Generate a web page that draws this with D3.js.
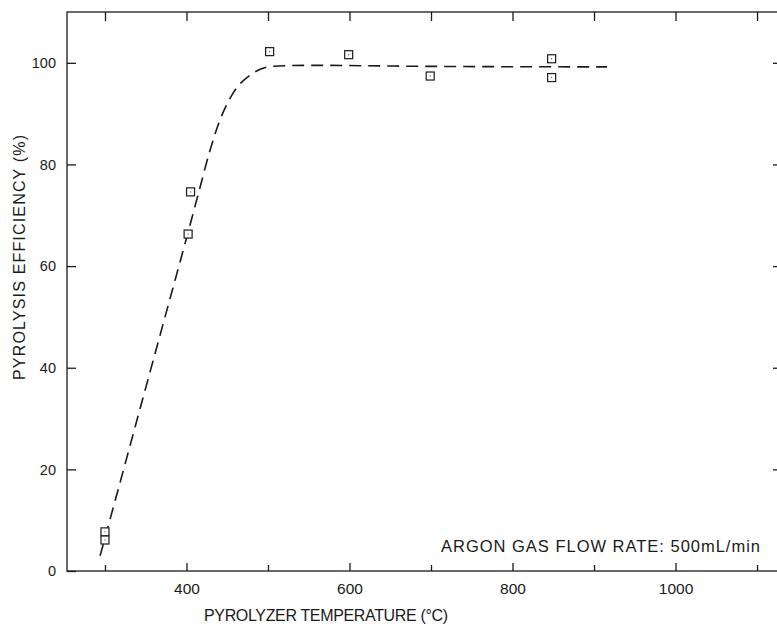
<!DOCTYPE html>
<html>
<head>
<meta charset="utf-8">
<script src="https://cdn.jsdelivr.net/npm/d3@7"></script>
<style>
  body { margin: 0; background: #fff; }
  svg { display: block; font-family: "Liberation Sans", Arial, Helvetica, sans-serif; }
</style>
</head>
<body>
<div id="chart"></div>
<script>
// measured points (temperature in deg C, efficiency in %)
const pointTemp = [300, 300, 402, 405, 502, 599, 699, 848, 848];
const pointEff = [7.7, 6.1, 66.3, 74.6, 102.2, 101.6, 97.4, 100.8, 97.1];

// dashed fitted curve
const curveTemp = [294, 320, 346, 373, 400, 415, 428, 440, 457, 480, 505, 550, 700, 916];
const curveEff = [3, 18.3, 33.7, 49.6, 65.5, 74.5, 82.3, 88.3, 94, 97.8, 99.3, 99.5, 99.3, 99.2];

// tick values
const xMajor = [400, 600, 800, 1000];
const xMinor = [300, 500, 700, 900, 1100];
const yTicks = [0, 20, 40, 60, 80, 100];

const width = 777;
const height = 629;
const plot = { left: 67, right: 781, top: 12, bottom: 571 };

const svg = d3.select('#chart')
    .append('svg')
    .attr('width', width)
    .attr('height', height);

const x = d3.scaleLinear()
    .domain([253.4, 1129.4])
    .range([plot.left, plot.right]);

const y = d3.scaleLinear()
    .domain([0, 110])
    .range([plot.bottom, plot.top]);

const ink = '#1a1a1a';

// frame
svg.append('rect')
    .attr('x', plot.left)
    .attr('y', plot.top)
    .attr('width', plot.right - plot.left)
    .attr('height', plot.bottom - plot.top)
    .attr('fill', 'none')
    .attr('stroke', ink)
    .attr('stroke-width', 1.3);

function styleAxis(g, size) {
    g.select('.domain').remove();
    g.selectAll('line').attr('stroke', ink).attr('stroke-width', 1.3);
    g.selectAll('text').attr('fill', ink).style('font-size', (size || 15) + 'px');
}

// bottom axis, ticks pointing in
svg.append('g')
    .attr('transform', `translate(0,${plot.bottom})`)
    .call(d3.axisBottom(x).tickValues(xMajor).tickSize(-8).tickPadding(12).tickFormat(d3.format('d')))
    .call(styleAxis, 15.5);

svg.append('g')
    .attr('transform', `translate(0,${plot.bottom})`)
    .call(d3.axisBottom(x).tickValues(xMinor).tickSize(-6).tickFormat(''))
    .call(styleAxis);

// top axis
svg.append('g')
    .attr('transform', `translate(0,${plot.top})`)
    .call(d3.axisTop(x).tickValues(xMajor.concat(xMinor)).tickSize(-9).tickFormat(''))
    .call(styleAxis);

// left axis
svg.append('g')
    .attr('transform', `translate(${plot.left},0)`)
    .call(d3.axisLeft(y).tickValues(yTicks).tickSize(-9).tickPadding(11).tickFormat(d3.format('d')))
    .call(styleAxis, 14.5);

// right axis
svg.append('g')
    .attr('transform', `translate(${plot.right},0)`)
    .call(d3.axisRight(y).tickValues(yTicks.slice(1)).tickSize(-8).tickFormat(''))
    .call(styleAxis);

// dashed curve
const line = d3.line()
    .x(d => x(d[0]))
    .y(d => y(d[1]))
    .curve(d3.curveMonotoneX);

svg.append('path')
    .datum(d3.zip(curveTemp, curveEff))
    .attr('d', line)
    .attr('fill', 'none')
    .attr('stroke', ink)
    .attr('stroke-width', 1.6)
    .attr('stroke-dasharray', '12,7');

// open square markers
const pts = svg.append('g')
    .selectAll('g')
    .data(d3.zip(pointTemp, pointEff))
    .join('g')
    .attr('transform', d => `translate(${x(d[0])},${y(d[1])})`);

pts.append('rect')
    .attr('x', -4)
    .attr('y', -4)
    .attr('width', 8)
    .attr('height', 8)
    .attr('fill', '#fff')
    .attr('stroke', ink)
    .attr('stroke-width', 1.2);

pts.append('circle')
    .attr('r', 0.7)
    .attr('fill', '#666');

// axis titles
svg.append('text')
    .attr('x', 204)
    .attr('y', 621)
    .attr('textLength', 244)
    .attr('lengthAdjust', 'spacing')
    .text('PYROLYZER TEMPERATURE (°C)')
    .style('font-size', '16px')
    .attr('fill', ink);

svg.append('text')
    .attr('transform', 'rotate(-90)')
    .attr('x', -380)
    .attr('y', 25)
    .attr('textLength', 245)
    .attr('lengthAdjust', 'spacing')
    .text('PYROLYSIS EFFICIENCY (%)')
    .style('font-size', '16px')
    .attr('fill', ink);

// annotation
svg.append('text')
    .attr('x', 441)
    .attr('y', 552)
    .attr('textLength', 319)
    .attr('lengthAdjust', 'spacing')
    .text('ARGON GAS FLOW RATE: 500mL/min')
    .style('font-size', '16.5px')
    .attr('fill', ink);
</script>
</body>
</html>
